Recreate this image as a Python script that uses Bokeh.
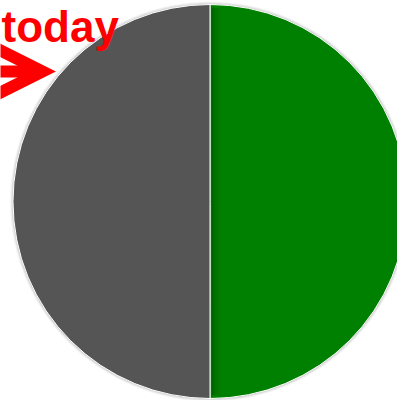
import numpy as np
from bokeh.plotting import figure
from bokeh.models import Range1d, Arrow, OpenHead, ColumnDataSource
from bokeh.core.properties import value
from bokeh.embed import file_html
from bokeh.resources import INLINE

# data
labels = ["done", "left"]
values = [50, 50]
colors = ["#008000", "#555555"]
annotation_text = "today"

W, H = 397, 400
p = figure(width=W, height=H, output_backend="svg", toolbar_location=None,
           x_range=Range1d(0, W), y_range=Range1d(H, 0), min_border=0)
p.axis.visible = False
p.grid.visible = False
p.outline_line_color = None
p.background_fill_color = "white"
p.border_fill_color = "white"

cx, cy, r = 209.5, 201, 197

# soft shadow halo
for i, a in enumerate([0.04, 0.06, 0.08]):
    p.circle(x=[cx], y=[cy], radius=r + 3 - i, fill_color="#000000",
             fill_alpha=a, line_color=None)

vals = np.array(values, dtype=float)
fr = vals / vals.sum()
ends = np.cumsum(fr) * 2 * np.pi
starts = ends - fr * 2 * np.pi
off = -np.pi / 2
src = ColumnDataSource(dict(start=starts + off, end=ends + off, color=colors, label=labels))
p.wedge(x=cx, y=cy, radius=r, start_angle="start", end_angle="end",
        direction="anticlock", fill_color="color", line_color="white",
        line_width=1.0, source=src)

# inner shading along the divider on the green side
for k, a in enumerate([0.22, 0.17, 0.12, 0.08, 0.05, 0.02]):
    p.quad(left=cx + 1.5 + k * 1.6, right=cx + 1.5 + (k + 1) * 1.6,
           top=cy - r + 3 + k * 0.2, bottom=cy + r - 3 - k * 0.2,
           fill_color="#000000", fill_alpha=a, line_color=None)

p.text(x=[1], y=[1], text=[annotation_text], text_color="#ff0000",
       text_font=value("Liberation Sans"), text_font_style="bold",
       text_font_size="44px", text_baseline="top")

p.add_layout(Arrow(end=OpenHead(line_color="#ff0000", line_width=12, size=72,
                                line_join="miter"),
                   x_start=-5, y_start=71, x_end=42, y_end=71,
                   line_color="#ff0000", line_width=12))

open("out.html", "w").write(file_html(p, INLINE))
